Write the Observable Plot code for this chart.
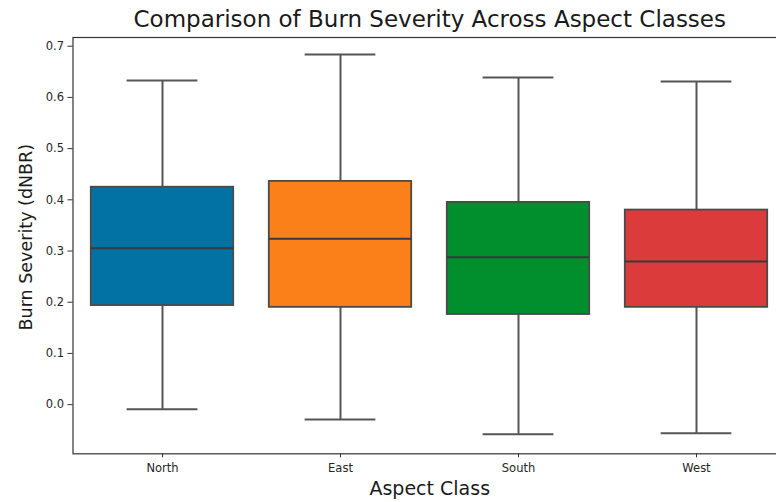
<!DOCTYPE html>
<html>
<head>
<meta charset="utf-8">
<script src="https://cdn.jsdelivr.net/npm/d3@7"></script>
<script src="https://cdn.jsdelivr.net/npm/@observablehq/plot@0.6"></script>
<style>
  html, body { margin: 0; padding: 0; background: #fff; overflow: hidden; }
  #chart { width: 776px; height: 502px; overflow: hidden; }
  #chart svg { max-width: none !important; }
</style>
</head>
<body>
<div id="chart"></div>
<script>
const categories = ["North", "East", "South", "West"];
const colors = ["#0172a3", "#fb8019", "#018f2d", "#db3b3b"];
const whiskerLow = [-0.009, -0.029, -0.058, -0.056];
const q1 = [0.1935, 0.190, 0.176, 0.190];
const median = [0.3055, 0.324, 0.288, 0.2795];
const q3 = [0.4246, 0.436, 0.395, 0.380];
const whiskerHigh = [0.633, 0.684, 0.639, 0.631];
const yTicks = [0.0, 0.1, 0.2, 0.3, 0.4, 0.5, 0.6, 0.7];

const titleText = "Comparison of Burn Severity Across Aspect Classes";
const xLabel = "Aspect Class";
const yLabel = "Burn Severity (dNBR)";

const rows = categories.map((c, i) => ({
  cat: c, color: colors[i], lo: whiskerLow[i], q1: q1[i], med: median[i], q3: q3[i], hi: whiskerHigh[i]
}));

const W = 800;
const chart = Plot.plot({
  width: W,
  height: 502,
  marginLeft: 72.5,
  marginRight: W - 786,
  marginTop: 37,
  marginBottom: 48.7,
  style: { fontFamily: "DejaVu Sans", fontSize: "11.5px", color: "#262626", background: "#fff", maxWidth: "none" },
  x: { domain: categories, padding: 0, label: null },
  y: { domain: [-0.096, 0.717], label: null },
  marks: [
    Plot.frame({ stroke: "#333", strokeWidth: 1.2 }),
    Plot.axisY({ ticks: yTicks, tickFormat: d3.format(".1f"), tickSize: 5, tickPadding: 4, label: null, stroke: "#333" }),
    Plot.axisX({ tickSize: 4, tickPadding: 6, label: null, stroke: "#333" }),
    Plot.ruleX(rows, { x: "cat", y1: "lo", y2: "q1", stroke: "#555", strokeWidth: 2 }),
    Plot.ruleX(rows, { x: "cat", y1: "q3", y2: "hi", stroke: "#555", strokeWidth: 2 }),
    Plot.tickY(rows, { x: "cat", y: "lo", stroke: "#555", strokeWidth: 2, insetLeft: 53.6, insetRight: 53.6 }),
    Plot.tickY(rows, { x: "cat", y: "hi", stroke: "#555", strokeWidth: 2, insetLeft: 53.6, insetRight: 53.6 }),
    Plot.barY(rows, { x: "cat", y1: "q1", y2: "q3", fill: "color", stroke: "#4a4a4a", strokeWidth: 1.8, insetLeft: 17.8, insetRight: 17.8 }),
    Plot.tickY(rows, { x: "cat", y: "med", stroke: "#3a3a3a", strokeWidth: 2, insetLeft: 17.8, insetRight: 17.8 }),
    Plot.text([titleText], { frameAnchor: "top", lineAnchor: "middle", textAnchor: "middle", dy: -18, fontSize: 23, fill: "#1a1a1a" }),
    Plot.text([xLabel], { frameAnchor: "bottom", lineAnchor: "middle", textAnchor: "middle", dy: 35, fontSize: 19, fill: "#1a1a1a" }),
    Plot.text([yLabel], { frameAnchor: "left", lineAnchor: "middle", textAnchor: "middle", dx: -46.5, dy: -8.5, rotate: -90, fontSize: 17.5, fill: "#1a1a1a" })
  ]
});
chart.style.maxWidth = "none";
document.getElementById("chart").appendChild(chart);
</script>
</body>
</html>
